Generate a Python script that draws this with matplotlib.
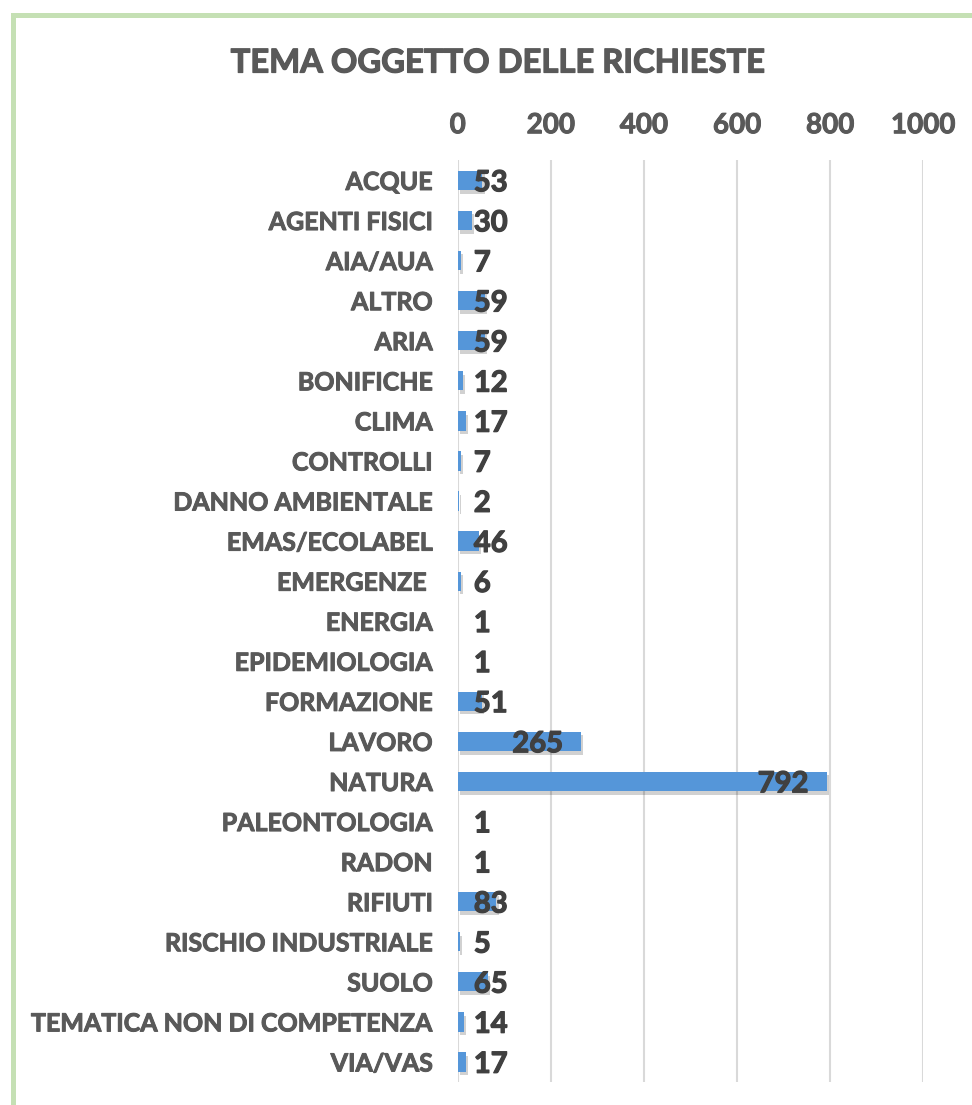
import matplotlib
matplotlib.use("Agg")
import matplotlib.pyplot as plt
import matplotlib.patheffects as pe
from matplotlib.patches import Rectangle

categories = ["ACQUE", "AGENTI FISICI", "AIA/AUA", "ALTRO", "ARIA", "BONIFICHE",
              "CLIMA", "CONTROLLI", "DANNO AMBIENTALE", "EMAS/ECOLABEL",
              "EMERGENZE ", "ENERGIA", "EPIDEMIOLOGIA", "FORMAZIONE", "LAVORO",
              "NATURA", "PALEONTOLOGIA", "RADON", "RIFIUTI", "RISCHIO INDUSTRIALE",
              "SUOLO", "TEMATICA NON DI COMPETENZA", "VIA/VAS"]
values = [53, 30, 7, 59, 59, 12, 17, 7, 2, 46, 6, 1, 1, 51, 265, 792, 1, 1, 83, 5,
          65, 14, 17]
x_ticks = [0, 200, 400, 600, 800, 1000]
title = "TEMA OGGETTO DELLE RICHIESTE"

FONT = "Lato"
GRAY = "#595959"
DARK = "#404040"


def heavy(color, w=0.7):
    # thicken the glyphs a bit, the original is a heavier bold
    return [pe.withStroke(linewidth=w, foreground=color)]


fig = plt.figure(figsize=(9.72, 11.05), dpi=100)
ax = fig.add_axes([0.471, 0.0208, 0.479, 0.834])

pos = list(range(len(categories)))
bars = ax.barh(pos, values, height=0.48, color="#5596d9", zorder=3)
for b in bars:
    b.set_path_effects([pe.withSimplePatchShadow(offset=(1.5, -2.5), shadow_rgbFace="#000000",
                                                 alpha=0.18), pe.Normal()])

ax.set_xlim(0, 1000)
ax.set_ylim(len(categories) - 0.5, -0.5)
ax.set_xticks(x_ticks)
ax.set_xticklabels([str(t) for t in x_ticks])
ax.xaxis.tick_top()
ax.set_yticks(pos)
ax.set_yticklabels(categories)
ax.tick_params(length=0)
for lab in ax.get_xticklabels():
    lab.set_fontfamily(FONT)
    lab.set_fontweight("bold")
    lab.set_fontsize(20)
    lab.set_color(GRAY)
    lab.set_path_effects(heavy(GRAY))
for lab in ax.get_yticklabels():
    lab.set_fontfamily(FONT)
    lab.set_fontweight("bold")
    lab.set_fontsize(18)
    lab.set_color(GRAY)
    lab.set_path_effects(heavy(GRAY))
ax.tick_params(axis="x", pad=16)
ax.tick_params(axis="y", pad=18)
for s in ax.spines.values():
    s.set_visible(False)
ax.grid(axis="x", color="#d9d9d9", linewidth=1.5, zorder=0)

# data labels: inside end, pushed right when the bar is too short
fig.canvas.draw()
renderer = fig.canvas.get_renderer()
to_px = ax.transData
inv = ax.transData.inverted()
for i, v in enumerate(values):
    t = ax.text(0, i + 0.07, str(v), fontfamily=FONT, fontweight="bold", fontsize=21,
                color=DARK, va="center", ha="left", zorder=5,
                path_effects=heavy(DARK, 0.9))
    w = t.get_window_extent(renderer).width
    x0 = to_px.transform((0, i))[0]
    xe = to_px.transform((v, i))[0]
    left = xe - 18 - w
    if left < x0 + 16:
        left = x0 + 16
    t.set_x(inv.transform((left, 0))[0])

fig.text(0.512, 0.943, title, fontfamily=FONT, fontweight="bold", fontsize=23.6,
         color=GRAY, ha="center", va="center", path_effects=heavy(GRAY, 0.9))

fig.patches.append(Rectangle((12.5 / 972, -0.1), 1.2, 1.1 - 15.5 / 1105,
                             transform=fig.transFigure, fill=False,
                             edgecolor="#c5e0b4", linewidth=3.6))

fig.savefig("out.png", dpi=100)
